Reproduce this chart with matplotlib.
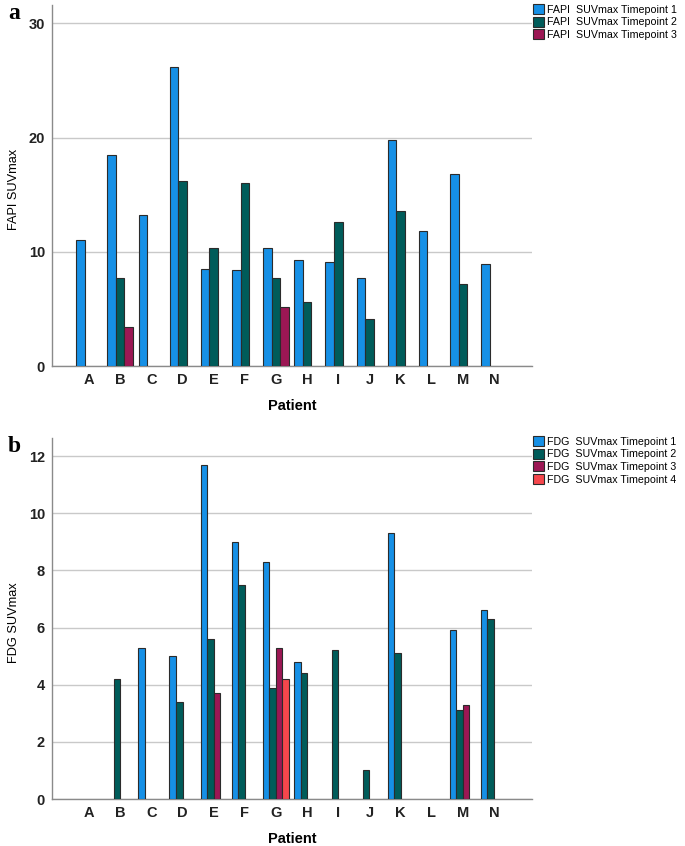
import numpy as np
import matplotlib
matplotlib.use("Agg")
import matplotlib.pyplot as plt

plt.rcParams["font.family"] = ["Liberation Sans", "DejaVu Sans"]

patients = list("ABCDEFGHIJKLMN")
nan = np.nan

# FAPI SUVmax per timepoint (NaN = no scan)
fapi_t1 = [11.0, 18.5, 13.2, 26.2, 8.5, 8.4, 10.3, 9.3, 9.1, 7.7, 19.8, 11.8, 16.8, 8.9]
fapi_t2 = [nan, 7.7, nan, 16.2, 10.3, 16.0, 7.7, 5.6, 12.6, 4.1, 13.6, nan, 7.2, nan]
fapi_t3 = [nan, 3.4, nan, nan, nan, nan, 5.2, nan, nan, nan, nan, nan, nan, nan]

# FDG SUVmax per timepoint
fdg_t1 = [nan, nan, 5.3, 5.0, 11.7, 9.0, 8.3, 4.8, nan, nan, 9.3, nan, 5.9, 6.6]
fdg_t2 = [nan, 4.2, nan, 3.4, 5.6, 7.5, 3.9, 4.4, 5.2, 1.0, 5.1, nan, 3.1, 6.3]
fdg_t3 = [nan, nan, nan, nan, 3.7, nan, 5.3, nan, nan, nan, nan, nan, 3.3, nan]
fdg_t4 = [nan, nan, nan, nan, nan, nan, 4.2, nan, nan, nan, nan, nan, nan, nan]

colors = ["#1690e6", "#005c5a", "#9c1754", "#f6474c"]

W, H = 685, 846
fig = plt.figure(figsize=(W / 100, H / 100), dpi=100)


def panel(rect, series, labels, width, ylim, yticks, ylabel, letter, leg_top):
    ax = fig.add_axes(rect)
    x = np.arange(len(patients))
    n = len(series)
    for i, (vals, lab) in enumerate(zip(series, labels)):
        off = (i - (n - 1) / 2) * width
        ax.bar(x + off, vals, width, color=colors[i], edgecolor="#2b2b2b",
               linewidth=0.8, label=lab, zorder=3)
    ax.set_xlim(-1.19, 14.22)
    ax.set_ylim(*ylim)
    ax.set_yticks(yticks)
    ax.set_xticks(x)
    ax.set_xticklabels(patients)
    ax.yaxis.grid(True, color="#c9c9c9", linewidth=1.0, zorder=0)
    ax.set_axisbelow(True)
    for s in ["top", "right"]:
        ax.spines[s].set_visible(False)
    for s in ["left", "bottom"]:
        ax.spines[s].set_color("#8a8a8a")
        ax.spines[s].set_linewidth(1.0)
    ax.tick_params(length=0, labelsize=10.5, pad=5)
    for t in ax.get_xticklabels() + ax.get_yticklabels():
        t.set_fontweight("bold")
        t.set_color("#222222")
    ax.set_ylabel(ylabel, fontsize=9.2)
    ax.yaxis.set_label_coords(-0.067, 0.488)
    ax.set_xlabel("Patient", fontsize=10.5, fontweight="bold", labelpad=9)
    fig.legend(*ax.get_legend_handles_labels(), loc="upper left",
               bbox_to_anchor=(533 / W, 1 - leg_top / H), frameon=False,
               fontsize=7.7, handlelength=1.05, handleheight=1.05,
               handletextpad=0.3, labelspacing=0.2, borderpad=0,
               borderaxespad=0)
    fig.text(8 / W, rect[1] + rect[3] + 2 / H, letter, fontsize=17,
             fontweight="bold", family="Liberation Serif", va="top")
    return ax


panel([52 / W, 480 / H, 480 / W, 361 / H],
      [fapi_t1, fapi_t2, fapi_t3],
      ["FAPI  SUVmax Timepoint 1", "FAPI  SUVmax Timepoint 2",
       "FAPI  SUVmax Timepoint 3"],
      0.274, (0, 31.6), [0, 10, 20, 30], "FAPI SUVmax", "a", 4)

panel([52 / W, 47 / H, 480 / W, 361 / H],
      [fdg_t1, fdg_t2, fdg_t3, fdg_t4],
      ["FDG  SUVmax Timepoint 1", "FDG  SUVmax Timepoint 2",
       "FDG  SUVmax Timepoint 3", "FDG  SUVmax Timepoint 4"],
      0.209, (0, 12.63), [0, 2, 4, 6, 8, 10, 12], "FDG SUVmax", "b", 436)

fig.savefig("out.png", dpi=100)
